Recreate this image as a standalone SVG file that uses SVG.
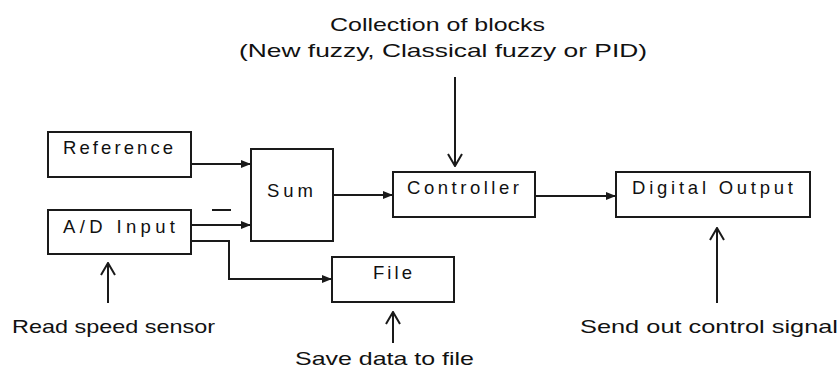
<svg xmlns="http://www.w3.org/2000/svg" width="840" height="368" viewBox="0 0 840 368">
  <style>
    .box { fill: #fff; stroke: #1a1a1a; stroke-width: 2; }
    .lbl { font-family: "Liberation Sans", Arial, sans-serif; font-size: 18.5px; fill: #111; }
    .note { font-family: "Liberation Sans", Arial, sans-serif; font-size: 19px; fill: #111; }
    .wire { fill: none; stroke: #1a1a1a; stroke-width: 2; }
  </style>
  <defs>
    <marker id="solid" viewBox="0 0 10 8" refX="10" refY="4" markerWidth="10" markerHeight="8" markerUnits="userSpaceOnUse" orient="auto">
      <path d="M0,0 L10,4 L0,8 Z" fill="#1a1a1a"/>
    </marker>
    <marker id="open" viewBox="0 0 14 16" refX="13" refY="8" markerWidth="14" markerHeight="16" markerUnits="userSpaceOnUse" orient="auto">
      <path d="M1,1 L13,8 L1,15" fill="none" stroke="#1a1a1a" stroke-width="2"/>
    </marker>
  </defs>

  <rect width="840" height="368" fill="#fff"/>

  <!-- annotation above the controller -->
  <g id="note-blocks">
    <text class="note" x="330" y="31" font-size="21" textLength="215" lengthAdjust="spacingAndGlyphs">Collection of blocks</text>
    <text class="note" x="239" y="57" font-size="21" textLength="408" lengthAdjust="spacingAndGlyphs">(New fuzzy, Classical fuzzy or PID)</text>
  </g>

  <g id="reference">
    <rect class="box" x="48" y="132" width="143" height="45"/>
    <text class="lbl" x="63" y="154" textLength="110" lengthAdjust="spacing">Reference</text>
  </g>

  <g id="ad-input">
    <rect class="box" x="48" y="210" width="143" height="44"/>
    <text class="lbl" x="63" y="233" textLength="112" lengthAdjust="spacing">A/D Input</text>
  </g>

  <g id="sum">
    <rect class="box" x="251" y="149" width="82" height="92"/>
    <text class="lbl" x="267" y="197" textLength="46" lengthAdjust="spacing">Sum</text>
  </g>

  <g id="controller">
    <rect class="box" x="393" y="172" width="142" height="45"/>
    <text class="lbl" x="407" y="194" textLength="112" lengthAdjust="spacing">Controller</text>
  </g>

  <g id="digital-output">
    <rect class="box" x="616" y="172" width="194" height="45"/>
    <text class="lbl" x="632" y="194" textLength="161" lengthAdjust="spacing">Digital Output</text>
  </g>

  <g id="file">
    <rect class="box" x="332" y="257" width="122" height="45"/>
    <text class="lbl" x="373" y="279" textLength="39" lengthAdjust="spacing">File</text>
  </g>

  <g id="note-sensor">
    <text class="note" x="12" y="333" textLength="203" lengthAdjust="spacingAndGlyphs">Read speed sensor</text>
  </g>
  <g id="note-save">
    <text class="note" x="295" y="365" textLength="179" lengthAdjust="spacingAndGlyphs">Save data to file</text>
  </g>
  <g id="note-send">
    <text class="note" x="580" y="333" textLength="258" lengthAdjust="spacingAndGlyphs">Send out control signal</text>
  </g>

  <g id="connectors">
    <path class="wire" d="M191,164 H251" marker-end="url(#solid)"/>
    <path class="wire" d="M191,225 H251" marker-end="url(#solid)"/>
    <path class="wire" d="M212,210 H231"/>
    <path class="wire" d="M191,241 H229 V279 H332" marker-end="url(#solid)"/>
    <path class="wire" d="M333,195 H393" marker-end="url(#solid)"/>
    <path class="wire" d="M535,196 H616" marker-end="url(#solid)"/>
    <path class="wire" d="M455,77 V166" marker-end="url(#open)"/>
    <path class="wire" d="M108,303 V263" marker-end="url(#open)"/>
    <path class="wire" d="M393,343 V312" marker-end="url(#open)"/>
    <path class="wire" d="M717,303 V228" marker-end="url(#open)"/>
  </g>
</svg>
